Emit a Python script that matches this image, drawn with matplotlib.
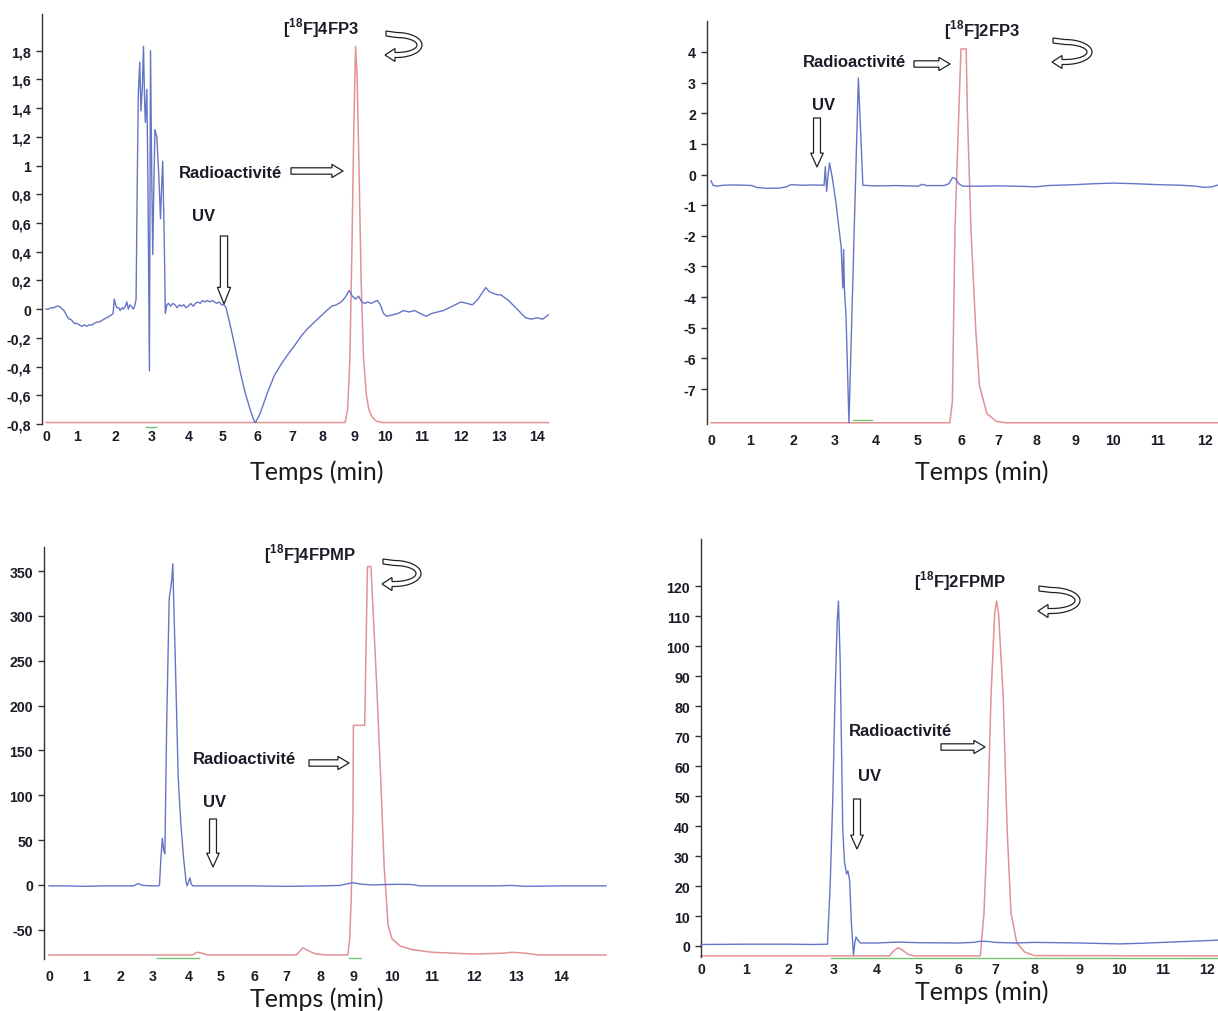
import numpy as np
import matplotlib
matplotlib.use("Agg")
import matplotlib.pyplot as plt
from matplotlib import font_manager as fm
from matplotlib.patches import FancyArrowPatch, Polygon, ArrowStyle

# ------------------------------------------------------------------ data
# Panel 1 : [18F]4FP3  (time in min, signal)
p1_uv = [(0.00, 0.00), (0.08, 0.00), (0.17, 0.01), (0.26, 0.01), (0.34, 0.02), (0.42, 0.02),
         (0.48, 0.01), (0.53, 0.00), (0.58, -0.01), (0.63, -0.03), (0.68, -0.05), (0.74, -0.07),
         (0.79, -0.07), (0.84, -0.08), (0.92, -0.10), (1.00, -0.10), (1.06, -0.11), (1.13, -0.12),
         (1.19, -0.11), (1.26, -0.12), (1.32, -0.11), (1.39, -0.11), (1.45, -0.10), (1.52, -0.09),
         (1.58, -0.09), (1.65, -0.08), (1.71, -0.07), (1.78, -0.06), (1.85, -0.05), (1.91, -0.04),
         (1.95, -0.03), (1.98, 0.07), (2.02, 0.03), (2.05, 0.01), (2.10, 0.01), (2.14, -0.01),
         (2.19, 0.01), (2.23, 0.00), (2.28, 0.02), (2.32, 0.05), (2.36, 0.00), (2.40, 0.03),
         (2.44, 0.02), (2.47, 0.01), (2.50, 0.00), (2.54, 0.03), (2.57, 0.07), (2.60, 0.85),
         (2.63, 1.50), (2.67, 1.72), (2.70, 1.38), (2.74, 1.55), (2.77, 1.83), (2.80, 1.45),
         (2.82, 1.30), (2.86, 1.53), (2.89, 0.90), (2.93, -0.43), (2.96, 1.80), (2.99, 1.00),
         (3.02, 0.38), (3.05, 0.85), (3.08, 1.25), (3.13, 1.20), (3.18, 0.95), (3.23, 0.63),
         (3.26, 0.85), (3.29, 1.03), (3.33, 0.50), (3.36, -0.03), (3.40, 0.03), (3.45, 0.04),
         (3.50, 0.02), (3.56, 0.04), (3.62, 0.03), (3.68, 0.01), (3.74, 0.03), (3.80, 0.02),
         (3.86, 0.03), (3.92, 0.01), (3.98, 0.02), (4.05, 0.04), (4.12, 0.02), (4.19, 0.04),
         (4.26, 0.05), (4.33, 0.04), (4.40, 0.06), (4.47, 0.05), (4.54, 0.06), (4.61, 0.05),
         (4.68, 0.06), (4.75, 0.05), (4.82, 0.04), (4.89, 0.05), (4.96, 0.03), (5.03, 0.03),
         (5.09, 0.01), (5.20, -0.10), (5.35, -0.26), (5.50, -0.43), (5.65, -0.58), (5.80, -0.70),
         (5.90, -0.77), (5.95, -0.79), (6.00, -0.77), (6.10, -0.72), (6.30, -0.58), (6.50, -0.46),
         (6.70, -0.38), (6.90, -0.31), (7.10, -0.25), (7.30, -0.19), (7.50, -0.14), (7.70, -0.10),
         (7.90, -0.06), (8.10, -0.02), (8.30, 0.02), (8.45, 0.03), (8.60, 0.05), (8.72, 0.08),
         (8.85, 0.13), (8.95, 0.09), (9.05, 0.07), (9.15, 0.09), (9.25, 0.05), (9.35, 0.04),
         (9.45, 0.05), (9.55, 0.04), (9.65, 0.05), (9.75, 0.06), (9.85, 0.03), (9.95, -0.03),
         (10.05, -0.05), (10.20, -0.04), (10.35, -0.03), (10.50, -0.01), (10.65, -0.02),
         (10.80, -0.01), (10.95, -0.03), (11.10, -0.05), (11.25, -0.03), (11.40, -0.02),
         (11.55, -0.01), (11.70, 0.01), (11.85, 0.03), (12.00, 0.05), (12.15, 0.04), (12.30, 0.03),
         (12.45, 0.07), (12.55, 0.11), (12.65, 0.15), (12.75, 0.12), (12.85, 0.11), (12.95, 0.10),
         (13.05, 0.10), (13.15, 0.08), (13.25, 0.06), (13.40, 0.02), (13.55, -0.02), (13.70, -0.06),
         (13.85, -0.07), (14.00, -0.06), (14.15, -0.07), (14.30, -0.04)]
p1_rad = [(0.00, -0.79), (8.72, -0.79), (8.80, -0.70), (8.87, -0.35), (8.93, 0.35), (8.99, 1.20),
          (9.05, 1.83), (9.10, 1.62), (9.16, 1.00), (9.23, 0.20), (9.31, -0.35), (9.40, -0.60),
          (9.48, -0.70), (9.58, -0.75), (9.72, -0.78), (9.92, -0.79), (14.30, -0.79)]
p1_green = [(2.85, -0.82), (3.10, -0.82)]
p1_yticks = [1.8, 1.6, 1.4, 1.2, 1.0, 0.8, 0.6, 0.4, 0.2, 0.0, -0.2, -0.4, -0.6, -0.8]
p1_ylabels = ["1,8", "1,6", "1,4", "1,2", "1", "0,8", "0,6", "0,4", "0,2", "0",
              "-0,2", "-0,4", "-0,6", "-0,8"]
p1_xticks = list(range(0, 15))

# Panel 2 : [18F]2FP3
p2_uv = [(0.00, -0.20), (0.05, -0.35), (0.15, -0.38), (0.30, -0.35), (0.60, -0.34), (0.90, -0.35),
         (1.05, -0.36), (1.15, -0.42), (1.40, -0.45), (1.70, -0.44), (1.85, -0.40), (1.95, -0.33),
         (2.20, -0.35), (2.50, -0.34), (2.74, -0.35), (2.77, 0.26), (2.80, -0.55), (2.83, -0.10),
         (2.87, 0.38), (2.93, -0.06), (3.02, -0.88), (3.10, -1.80), (3.15, -2.35), (3.19, -3.70),
         (3.21, -2.45), (3.23, -3.75), (3.27, -4.65), (3.34, -8.10), (3.57, 3.15), (3.68, -0.35),
         (4.00, -0.37), (4.50, -0.36), (5.00, -0.38), (5.10, -0.32), (5.20, -0.36), (5.60, -0.36),
         (5.72, -0.30), (5.80, -0.10), (5.87, -0.13), (5.95, -0.30), (6.05, -0.38), (6.50, -0.38),
         (7.00, -0.37), (7.50, -0.38), (8.00, -0.40), (8.30, -0.36), (9.00, -0.33), (9.50, -0.30),
         (10.00, -0.28), (10.50, -0.30), (11.00, -0.33), (11.50, -0.35), (11.80, -0.38),
         (12.00, -0.42), (12.15, -0.40), (12.30, -0.33)]
p2_rad = [(0.00, -8.10), (5.74, -8.10), (5.80, -7.40), (5.86, -1.80), (5.96, 2.50), (6.00, 4.10),
          (6.14, 4.10), (6.17, 2.10), (6.27, -1.80), (6.40, -5.10), (6.50, -6.90), (6.70, -7.80),
          (6.95, -8.05), (7.20, -8.10), (12.30, -8.10)]
p2_green = [(3.45, -8.02), (3.90, -8.02)]
p2_yticks = [4, 3, 2, 1, 0, -1, -2, -3, -4, -5, -6, -7]
p2_ylabels = ["4", "3", "2", "1", "0", "-1", "-2", "-3", "-4", "-5", "-6", "-7"]
p2_xticks = list(range(0, 13))

# Panel 3 : [18F]4FPMP
p3_uv = [(0.0, -1), (0.5, -1), (1.0, -1.5), (1.5, -1), (2.0, -1), (2.4, -1), (2.55, 1.5),
         (2.7, -0.5), (3.0, -1), (3.15, -1), (3.18, 0), (3.22, 30), (3.26, 52), (3.30, 38),
         (3.33, 35), (3.38, 180), (3.45, 320), (3.49, 330), (3.52, 340), (3.55, 358), (3.58, 310),
         (3.62, 250), (3.70, 120), (3.77, 70), (3.85, 30), (3.92, 3), (3.95, -1), (4.00, 5),
         (4.03, 8), (4.07, 1), (4.12, -1), (5.0, -1), (6.0, -1), (7.0, -1.5), (8.0, -1),
         (8.6, -0.5), (8.85, 1.5), (9.0, 2.5), (9.2, 1), (9.5, 0), (9.8, 0.5), (10.2, 0.8),
         (10.5, 0.5), (10.7, -1), (11.5, -1), (12.5, -1), (12.9, -0.5), (13.2, -1.5), (14.0, -1),
         (15.0, -1)]
p3_rad = [(0.0, -78), (4.10, -78), (4.25, -75), (4.40, -76), (4.60, -78), (7.30, -78), (7.40, -74),
          (7.50, -70), (7.60, -72), (7.75, -75), (7.90, -77), (8.20, -78), (8.84, -78), (8.90, -60),
          (8.95, -10), (9.00, 80), (9.01, 178), (9.30, 178), (9.37, 355), (9.46, 355), (9.60, 230),
          (9.70, 130), (9.80, 20), (9.90, -45), (10.00, -60), (10.20, -68), (10.50, -72),
          (11.00, -75), (12.00, -77), (12.70, -76), (12.90, -75), (13.20, -76), (13.50, -78),
          (15.00, -78)]
p3_green = [[(3.10, -81), (4.30, -81)], [(8.88, -81), (9.20, -81)]]
p3_yticks = [350, 300, 250, 200, 150, 100, 50, 0, -50]
p3_ylabels = ["350", "300", "250", "200", "150", "100", "50", "0", "-50"]
p3_xticks = list(range(0, 15))

# Panel 4 : [18F]2FPMP
p4_uv = [(0.0, 0.5), (1.0, 0.6), (2.0, 0.6), (2.5, 0.5), (2.86, 0.6), (2.92, 20), (2.98, 50),
         (3.03, 83), (3.08, 108), (3.11, 115), (3.15, 95), (3.21, 39), (3.25, 28), (3.30, 24),
         (3.33, 25), (3.37, 22), (3.41, 8), (3.46, -3), (3.49, 1), (3.52, 3), (3.56, 2), (3.62, 1),
         (4.0, 1), (4.5, 1.3), (5.0, 1.1), (6.0, 1), (6.4, 1.2), (6.6, 1.6), (6.8, 1.5), (7.0, 1.2),
         (7.5, 1), (8.0, 1.2), (9.0, 1), (10.0, 0.7), (10.5, 0.9), (11.0, 1.2), (11.5, 1.5),
         (12.0, 1.8), (12.3, 2.0)]
p4_rad = [(0.0, -3.3), (4.30, -3.3), (4.42, -1.5), (4.51, -0.6), (4.60, -1.2), (4.75, -2.8),
          (4.90, -3.3), (6.59, -3.3), (6.69, 11), (6.78, 39), (6.88, 83), (6.98, 111), (7.03, 115),
          (7.08, 111), (7.20, 83), (7.30, 39), (7.40, 11), (7.55, 1), (7.75, -2), (8.00, -3.2),
          (12.30, -3.3)]
p4_green = [(2.95, -3.9), (12.30, -3.9)]
p4_yticks = [120, 110, 100, 90, 80, 70, 60, 50, 40, 30, 20, 10, 0]
p4_ylabels = ["120", "110", "100", "90", "80", "70", "60", "50", "40", "30", "20", "10", "0"]
p4_xticks = list(range(0, 13))

titles = ["4FP3", "2FP3", "4FPMP", "2FPMP"]
xlabel_text = "Temps (min)"
rad_text = "Radioactivité"
uv_text = "UV"

# ------------------------------------------------------------------ style
W, H = 1218, 1012
names = {f.name for f in fm.fontManager.ttflist}
NARROW = "Liberation Sans Narrow" in names
BOLD_FAM = "Liberation Sans Narrow" if NARROW else "Liberation Sans"
LAB_FAM = "Lato" if "Lato" in names else "DejaVu Sans"
TICK_FS = 12 if NARROW else 10.2
ANN_FS = 14 if NARROW else 12

plt.rcParams["mathtext.fontset"] = "custom"
plt.rcParams["mathtext.rm"] = BOLD_FAM
plt.rcParams["mathtext.bf"] = BOLD_FAM + ":bold"

BLUE = "#6475c6"
RED = "#e29194"
GREEN = "#74c274"
TXT = "#1c1c28"

fig = plt.figure(figsize=(W / 100, H / 100), dpi=100)


def axes_px(left, top, right, bottom):
    return fig.add_axes([left / W, 1 - bottom / H, (right - left) / W, (bottom - top) / H])


def piecewise_scale(ax, ticks, tick_px, left_px, right_px):
    """Time axis whose integer ticks sit where the original (hand-placed) labels sit."""
    tt = np.asarray(ticks, float)
    pp = np.asarray(tick_px, float)

    def _map(x, a, b):
        x = np.asarray(x, float)
        y = np.interp(x, a, b)
        y = np.where(x < a[0], b[0] + (x - a[0]) * (b[1] - b[0]) / (a[1] - a[0]), y)
        y = np.where(x > a[-1], b[-1] + (x - a[-1]) * (b[-1] - b[-2]) / (a[-1] - a[-2]), y)
        return y

    fwd = lambda x: _map(x, tt, pp)
    inv = lambda y: _map(y, pp, tt)
    ax.set_xscale("function", functions=(fwd, inv))
    ax.set_xlim(float(inv(left_px)), float(inv(right_px)))


def style_axes(ax, ylim, xticks, yticks, ylabels, xpad):
    ax.set_ylim(*ylim)
    for s in ("top", "right", "bottom"):
        ax.spines[s].set_visible(False)
    ax.spines["left"].set_color("#333333")
    ax.spines["left"].set_linewidth(1.0)
    ax.set_yticks(yticks)
    ax.set_yticklabels(ylabels)
    ax.set_xticks(xticks)
    ax.set_xticklabels([str(x) for x in xticks])
    ax.xaxis.set_minor_locator(matplotlib.ticker.NullLocator())
    ax.tick_params(axis="y", direction="out", length=4, width=1, pad=4, colors="#333333",
                   labelcolor=TXT)
    ax.tick_params(axis="x", length=0, pad=xpad, labelcolor=TXT)
    for lab in ax.get_xticklabels() + ax.get_yticklabels():
        lab.set_fontfamily(BOLD_FAM)
        lab.set_fontweight("bold")
        lab.set_fontsize(TICK_FS)
    ax.patch.set_alpha(0)


def trace(ax, pts, color, lw=1.0, z=2):
    t = [p[0] for p in pts]
    v = [p[1] for p in pts]
    ax.plot(t, v, color=color, lw=lw, clip_on=False, zorder=z, solid_joinstyle="round")


# layout: axes box (px) and where the original tick labels are printed (px)
panels = [
    dict(box=(42, 15, 560, 425), ylim=(-0.8, 2.055), xt=p1_xticks,
         xpx=[46, 77, 115, 152, 189, 223, 257, 292, 322, 354, 385, 422, 461, 499, 537],
         yt=p1_yticks, yl=p1_ylabels, pad=3.5, uv=p1_uv, rad=p1_rad, green=[p1_green]),
    dict(box=(707, 22, 1218, 425), ylim=(-8.14, 5.01), xt=p2_xticks,
         xpx=[711, 750, 793, 835, 876, 918, 961, 998, 1036, 1075, 1113, 1158, 1205],
         yt=p2_yticks, yl=p2_ylabels, pad=6.5, uv=p2_uv, rad=p2_rad, green=[p2_green]),
    dict(box=(44, 548, 610, 960), ylim=(-82.5, 376.8), xt=p3_xticks,
         xpx=[49, 86, 120, 153, 189, 221, 254, 286, 320, 353, 392, 432, 474, 516, 561],
         yt=p3_yticks, yl=p3_ylabels, pad=7, uv=p3_uv, rad=p3_rad, green=p3_green),
    dict(box=(701, 540, 1218, 958), ylim=(-3.67, 135.7), xt=p4_xticks,
         xpx=[700, 745, 788, 833, 876, 918, 958, 995, 1034, 1079, 1119, 1163, 1207],
         yt=p4_yticks, yl=p4_ylabels, pad=3.5, uv=p4_uv, rad=p4_rad, green=[p4_green]),
]

for p in panels:
    ax = axes_px(*p["box"])
    piecewise_scale(ax, p["xt"], p["xpx"], p["box"][0], p["box"][2])
    style_axes(ax, p["ylim"], p["xt"], p["yt"], p["yl"], p["pad"])
    for g in p["green"]:
        trace(ax, g, GREEN, lw=1.0, z=1)
    trace(ax, p["rad"], RED, lw=1.1, z=2)
    trace(ax, p["uv"], BLUE, lw=1.0, z=3)

# ------------------------------------------------------------------ annotations (figure pixels)
ov = fig.add_axes([0, 0, 1, 1], zorder=10)
ov.set_xlim(0, W)
ov.set_ylim(H, 0)
ov.axis("off")
ov.patch.set_alpha(0)


def hollow_arrow(x1, y1, x2, y2, tail=4.6, hw=9.5, hl=8.0):
    st = ArrowStyle.Simple(head_length=hl, head_width=hw, tail_width=tail)
    ov.add_patch(FancyArrowPatch((x1, y1), (x2, y2), arrowstyle=st, mutation_scale=1,
                                 fc="white", ec="#222222", lw=0.9, shrinkA=0, shrinkB=0))


def u_arrow(x0, xr, ytop, ybot, w=5.0, hw=13.0, hl=10.0):
    h = w / 2
    rx = 0.62 * (xr - x0)
    ym = (ytop + ybot) / 2
    ry = (ybot - ytop) / 2
    xc = xr - rx - h
    th = np.linspace(np.pi / 2, -np.pi / 2, 60)
    outer = np.c_[xc + (rx + h) * np.cos(th), ym - (ry + h) * np.sin(th)]
    thi = th[::-1]
    inner = np.c_[xc + (rx - h) * np.cos(thi), ym - (ry - h) * np.sin(thi)]
    xh = x0 + hl
    pts = ([(x0 + 1, ytop - h - 1.5)] + outer.tolist()
           + [(xh, ybot + h), (xh, ybot + hw / 2), (x0, ybot), (xh, ybot - hw / 2), (xh, ybot - h)]
           + inner.tolist() + [(x0 + 1, ytop + h - 1.5)])
    ov.add_patch(Polygon(pts, closed=True, fc="white", ec="#222222", lw=0.9))


def label(x, y, s, fs=ANN_FS):
    ov.text(x, y, s, ha="center", va="center", fontsize=fs, fontweight="bold",
            fontfamily=BOLD_FAM, color=TXT)


def title(x, y, name):
    ov.text(x, y, r"[$^{\mathbf{18}}$F]" + name, ha="center", va="center", fontsize=ANN_FS,
            fontweight="bold", fontfamily=BOLD_FAM, color=TXT)


# panel 1
title(321, 28, titles[0])
u_arrow(385, 422, 36, 56)
label(231, 173, rad_text)
hollow_arrow(291, 172, 343, 172)
label(204, 216, uv_text)
hollow_arrow(224, 237, 224, 305, tail=5.2, hw=9.5, hl=12)

# panel 2
title(982, 30, titles[1])
u_arrow(1052, 1092, 43, 63)
label(854, 62, rad_text)
hollow_arrow(914, 65, 950, 65)
label(824, 105, uv_text)
hollow_arrow(817, 119, 817, 168, tail=5.0, hw=9.0, hl=10)

# panel 3
title(310, 554, titles[2])
u_arrow(382, 421, 564, 585)
label(245, 759, rad_text)
hollow_arrow(309, 764, 349, 764)
label(215, 803, uv_text)
hollow_arrow(213, 820, 213, 868, tail=5.0, hw=9.0, hl=10)

# panel 4
title(960, 581, titles[3])
u_arrow(1038, 1080, 591, 612)
label(901, 732, rad_text)
hollow_arrow(941, 748, 985, 748)
label(870, 777, uv_text)
hollow_arrow(857, 800, 857, 850, tail=5.0, hw=9.0, hl=10)

# axis titles
for (x, y) in [(317, 472), (982, 472), (317, 999), (982, 992)]:
    ov.text(x, y, xlabel_text, ha="center", va="center", fontsize=18, fontfamily=LAB_FAM,
            color="#1a1a1a")

fig.savefig("out.png", dpi=100)
